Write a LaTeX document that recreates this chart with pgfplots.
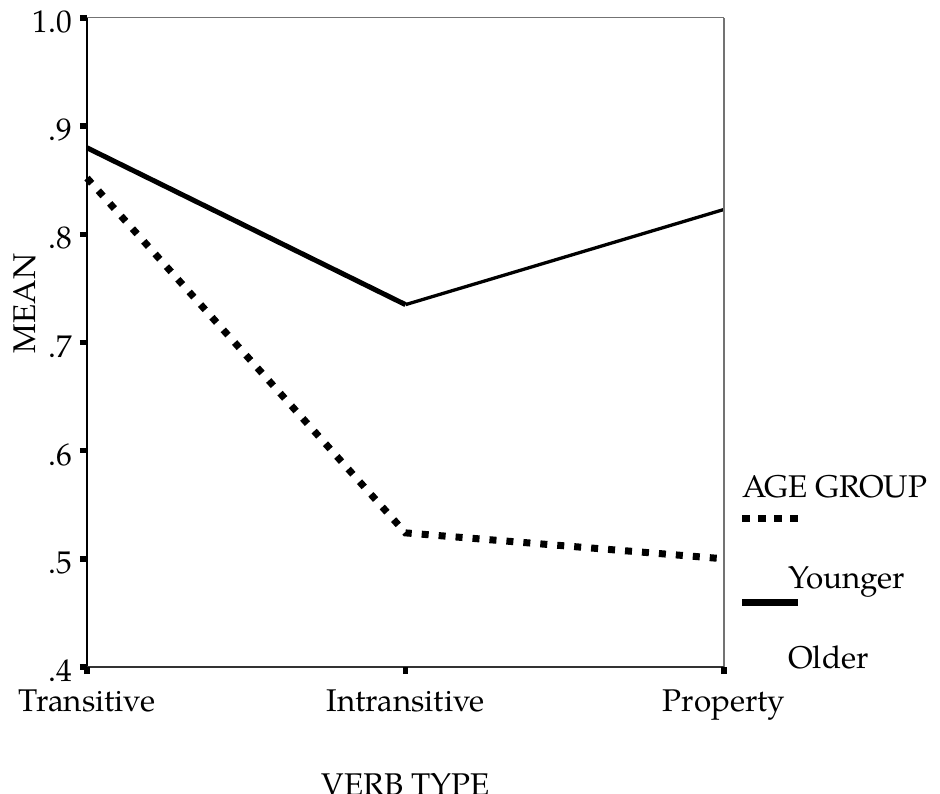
\documentclass[border=0pt]{standalone}
\usepackage{fontspec}
\setmainfont{TeX Gyre Pagella}
\usepackage{pgfplots}
\pgfplotsset{compat=1.18}
\newcommand{\bigfont}{\fontsize{31.5}{38}\selectfont}
\begin{document}
\bigfont
\begin{tikzpicture}[x=1bp,y=1bp]
\begin{axis}[
  scale only axis, width=637bp, height=649bp,
  xmin=0, xmax=2, ymin=0.4, ymax=1.0,
  xtick={0,1,2}, xticklabels={Transitive,Intransitive,Property},
  ytick={0.4,0.5,0.6,0.7,0.8,0.9,1.0},
  yticklabels={.4,.5,.6,.7,.8,.9,1.0},
  axis line style={draw=none},
  tick align=outside, xtick pos=bottom, ytick pos=left,
  major tick length=0pt,
  tick label style={font=\bigfont},
  yticklabel style={anchor=east, inner sep=0pt, xshift=-15bp, yshift=-4bp},
  xticklabel style={anchor=north, inner sep=0pt, yshift=-23bp},
  label style={font=\bigfont},
  xlabel={VERB TYPE},
  xlabel style={at={(axis description cs:0.5,0)}, anchor=north, inner sep=0pt, yshift=-106bp},
  ylabel={MEAN},
  ylabel style={at={(axis description cs:-0.097,0.56)}, anchor=center, inner sep=0pt},
  clip=false,
]
\addplot[black, line width=7bp, dash pattern=on 7bp off 10bp] coordinates {(0,0.852) (1,0.524) (2,0.500)};
\addplot[black, line width=5bp] coordinates {(0,0.880) (1,0.735)};
\addplot[black, line width=3.3bp] coordinates {(1,0.735) (2,0.823)};
\draw[black, line width=1.5bp] (rel axis cs:0,0) -- (rel axis cs:0,1);
\draw[black!55, line width=1bp] (rel axis cs:0,1) -- (rel axis cs:1,1);
\draw[black!55, line width=1.5bp] (rel axis cs:1,1) -- (rel axis cs:1,0);
\draw[black!80, line width=2bp] (rel axis cs:0,0) -- (rel axis cs:1,0);
\pgfplotsinvokeforeach{0.4,0.5,0.6,0.7,0.8,0.9,1.0}{
  \draw[black, line width=5.5bp] ([xshift=-7bp]axis cs:0,#1) -- (axis cs:0,#1);
}
\pgfplotsinvokeforeach{0,1,2}{
  \draw[black, line width=5.5bp] ([yshift=-7bp]axis cs:#1,0.4) -- (axis cs:#1,0.4);
}
\end{axis}
\node[anchor=base west, inner sep=0pt, font=\bigfont] at (655,169) {AGE GROUP};
\draw[black, line width=7bp, dash pattern=on 8bp off 8bp] (655,148) -- (711,148);
\node[anchor=base west, inner sep=0pt, font=\bigfont] at (701,78) {Younger};
\draw[black, line width=7bp] (655,64) -- (711,64);
\node[anchor=base west, inner sep=0pt, font=\bigfont] at (701,-2) {Older};
\pgfresetboundingbox
\useasboundingbox (-87,-127) rectangle (853,667);
\end{tikzpicture}
\end{document}
